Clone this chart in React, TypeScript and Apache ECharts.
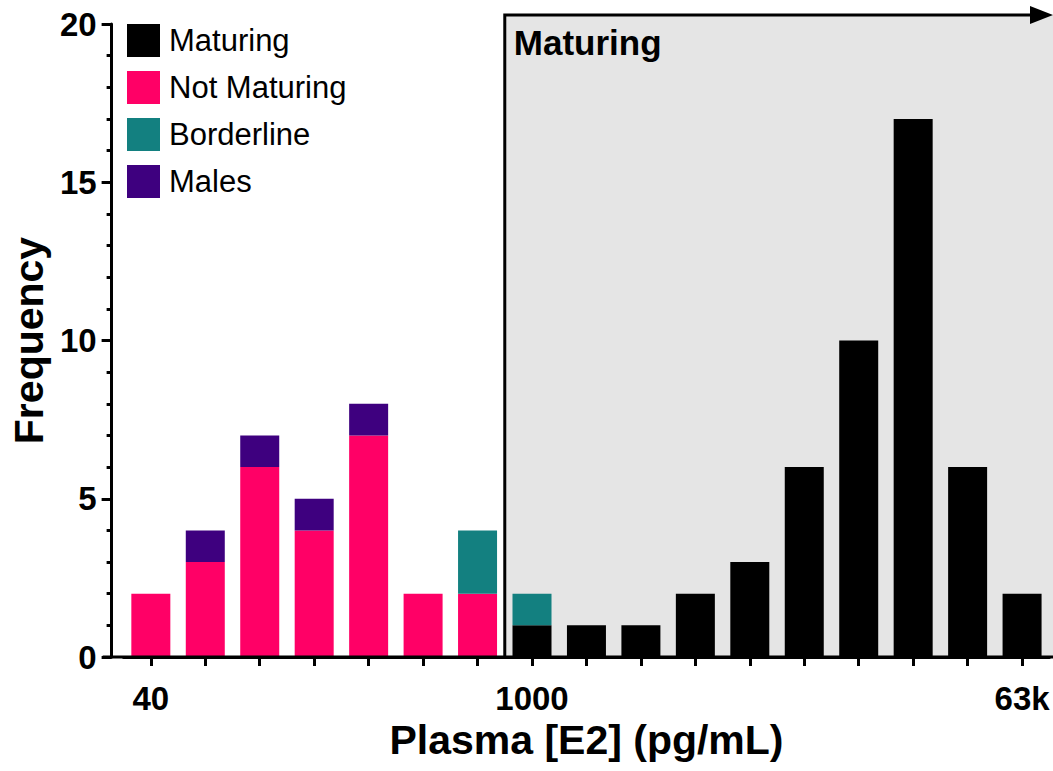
import React, { useEffect, useRef } from "react";
import * as echarts from "echarts";

// Log-spaced bin centres of plasma E2 (pg/mL); only three are labelled
const categories = ["40", "63", "100", "158", "251", "398", "631", "1000", "1585", "2512", "3981", "6310", "10k", "15.8k", "25.1k", "39.8k", "63k"];
const shownTickLabels = ["40", "1000", "63k"];

const maturing = [0, 0, 0, 0, 0, 0, 0, 1, 1, 1, 2, 3, 6, 10, 17, 6, 2];
const notMaturing = [2, 3, 6, 4, 7, 2, 2, 0, 0, 0, 0, 0, 0, 0, 0, 0, 0];
const borderline = [0, 0, 0, 0, 0, 0, 2, 1, 0, 0, 0, 0, 0, 0, 0, 0, 0];
const males = [0, 1, 1, 1, 1, 0, 0, 0, 0, 0, 0, 0, 0, 0, 0, 0, 0];

const yMin = 0;
const yMax = 20;
const yInterval = 5;

// The "Maturing" region starts between these two bins
const regionStartAfter = "631";
const regionStartBin = "1000";
const regionLabel = "Maturing";

const FONT = '"Liberation Sans", Arial, Helvetica, sans-serif';
const GRID_LEFT = 121.7;
const GRID_RIGHT = 3.7;
const Y_OFFSET = 12;

export default function App() {
  const ref = useRef<HTMLDivElement>(null);

  useEffect(() => {
    if (!ref.current) return;
    const chart = echarts.init(ref.current, null, { renderer: "svg" });

    const mkSeries = (name: string, data: number[], color: string) => ({
      name,
      type: "bar",
      stack: "total",
      data,
      barWidth: 39,
      itemStyle: { color },
      emphasis: { disabled: true },
    });

    chart.setOption({
      animation: false,
      backgroundColor: "#ffffff",
      textStyle: { fontFamily: FONT },
      grid: { left: GRID_LEFT, right: GRID_RIGHT, top: 24, bottom: 114, containLabel: false },
      legend: {
        orient: "vertical",
        left: 122,
        top: 19,
        itemWidth: 33,
        itemHeight: 33,
        itemGap: 14,
        icon: "rect",
        selectedMode: false,
        textStyle: { fontSize: 31, color: "#000", fontFamily: FONT, padding: [0, 0, 0, 4] },
        data: ["Maturing", "Not Maturing", "Borderline", "Males"],
      },
      xAxis: {
        type: "category",
        data: categories,
        name: "Plasma [E2] (pg/mL)",
        nameLocation: "middle",
        nameGap: 49,
        nameTextStyle: { fontSize: 41, fontWeight: "bold", color: "#000", fontFamily: FONT },
        axisLine: { lineStyle: { color: "#000", width: 3 } },
        axisTick: { show: true, alignWithLabel: true, interval: 0, length: 9, lineStyle: { color: "#000", width: 3 } },
        axisLabel: {
          interval: 0,
          margin: 25,
          fontSize: 33,
          fontWeight: "bold",
          color: "#000",
          fontFamily: FONT,
          formatter: (v: string) => (shownTickLabels.includes(v) ? v : ""),
        },
        splitLine: { show: false },
      },
      yAxis: {
        type: "value",
        min: yMin,
        max: yMax,
        interval: yInterval,
        offset: Y_OFFSET,
        name: "Frequency",
        nameLocation: "middle",
        nameGap: 60,
        nameTextStyle: { fontSize: 41, fontWeight: "bold", color: "#000", fontFamily: FONT },
        axisLine: { show: true, lineStyle: { color: "#000", width: 3 } },
        axisTick: { show: true, length: 10, lineStyle: { color: "#000", width: 3 } },
        minorTick: { show: true, splitNumber: 5, length: 5, lineStyle: { color: "#000", width: 3 } },
        axisLabel: { margin: 15, fontSize: 33, fontWeight: "bold", color: "#000", fontFamily: FONT },
        splitLine: { show: false },
      },
      series: [
        mkSeries("Maturing", maturing, "#000000"),
        mkSeries("Not Maturing", notMaturing, "#ff0066"),
        mkSeries("Borderline", borderline, "#138080"),
        mkSeries("Males", males, "#3e007f"),
      ],
    });

    const xa = chart.convertToPixel({ xAxisIndex: 0 }, regionStartAfter) as number;
    const xb0 = chart.convertToPixel({ xAxisIndex: 0 }, regionStartBin) as number;
    const xb = (xa + xb0) / 2;
    const y0 = chart.convertToPixel({ yAxisIndex: 0 }, yMin) as number;
    const yTop = (chart.convertToPixel({ yAxisIndex: 0 }, yMax) as number) - 9;
    const W = chart.getWidth();
    const yAxisX = GRID_LEFT - Y_OFFSET;

    chart.setOption({
      graphic: [
        {
          type: "rect",
          z: 0,
          shape: { x: xb, y: yTop, width: W - xb, height: y0 - yTop },
          style: { fill: "#e5e5e5" },
          silent: true,
        },
        {
          type: "polyline",
          z: 5,
          shape: { points: [[xb, y0], [xb, yTop], [W - 20, yTop]] },
          style: { stroke: "#000", lineWidth: 3, fill: null },
          silent: true,
        },
        {
          type: "polygon",
          z: 5,
          shape: { points: [[W - 23, yTop - 9], [W, yTop], [W - 23, yTop + 9]] },
          style: { fill: "#000" },
          silent: true,
        },
        {
          type: "text",
          z: 5,
          x: xb + 9,
          y: yTop + 10,
          style: { text: regionLabel, font: `bold 35px ${FONT}`, fill: "#000" },
          silent: true,
        },
        {
          type: "line",
          z: 5,
          shape: { x1: yAxisX - 7, y1: y0, x2: W, y2: y0 },
          style: { stroke: "#000", lineWidth: 3 },
          silent: true,
        },
      ],
    });

    return () => chart.dispose();
  }, []);

  return (
    <div
      ref={ref}
      style={{ position: "fixed", left: 0, top: 0, width: 1053, height: 771, background: "#fff" }}
    />
  );
}
